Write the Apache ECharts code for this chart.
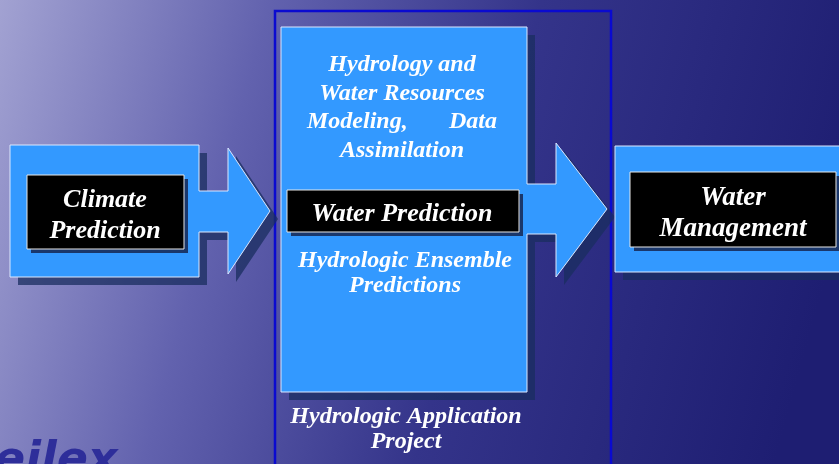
<!DOCTYPE html>
<html>
<head>
<meta charset="utf-8">
<script src="https://cdn.jsdelivr.net/npm/echarts@6/dist/echarts.min.js"></script>
<style>
  html, body { margin: 0; padding: 0; }
  #diagram { width: 839px; height: 464px; }
</style>
</head>
<body>
<div id="diagram"></div>
<script>
// textes du schéma
const climateLabel = ['Climate', 'Prediction'];
const modelLines = ['Hydrology and', 'Water Resources', 'Modeling,|Data', 'Assimilation'];
const predictionLabel = ['Water Prediction'];
const ensembleLines = ['Hydrologic Ensemble', 'Predictions'];
const projectLines = ['Hydrologic Application', 'Project'];
const managementLabel = ['Water', 'Management'];
const logoText = ['eilex'];

const chart = echarts.init(document.getElementById('diagram'), null, { renderer: 'canvas' });

const BLUE = '#3399ff';
const EDGE = '#dce8ff';
const SHADOW = 'rgba(25,45,95,0.75)';
const FONT = '"Liberation Serif", "DejaVu Serif", serif';

// forme bleue + son ombre décalée
function blueShape(points, z) {
    const shadow = points.map(p => [p[0] + 8, p[1] + 8]);
    return [
        { type: 'polygon', shape: { points: shadow }, style: { fill: SHADOW }, z: z },
        { type: 'polygon', shape: { points: points }, style: { fill: BLUE, stroke: EDGE, lineWidth: 1 }, z: z + 1 }
    ];
}

function blackBox(x, y, w, h, z) {
    return [
        { type: 'rect', shape: { x: x + 4, y: y + 4, width: w, height: h }, style: { fill: 'rgba(20,30,70,0.8)' }, z: z },
        { type: 'rect', shape: { x: x, y: y, width: w, height: h }, style: { fill: '#000', stroke: '#e8e8e8', lineWidth: 1 }, z: z + 1 }
    ];
}

function lines(list, cx, y0, step, size, z) {
    const out = [];
    list.forEach((t, i) => {
        const y = y0 + 2 + i * step;
        if (t.indexOf('|') >= 0) {
            const parts = t.split('|');
            out.push({ type: 'text', z: z, style: { x: cx - 95, y: y, text: parts[0], fill: '#fff', font: 'italic bold ' + size + 'px ' + FONT, textAlign: 'left', textVerticalAlign: 'middle' } });
            out.push({ type: 'text', z: z, style: { x: cx + 95, y: y, text: parts[1], fill: '#fff', font: 'italic bold ' + size + 'px ' + FONT, textAlign: 'right', textVerticalAlign: 'middle' } });
        } else {
            out.push({ type: 'text', z: z, style: { x: cx, y: y, text: t, fill: '#fff', font: 'italic bold ' + size + 'px ' + FONT, textAlign: 'center', textVerticalAlign: 'middle' } });
        }
    });
    return out;
}

const leftArrow = [[10, 145], [199, 145], [199, 191], [228, 191], [228, 148], [270, 211], [228, 274], [228, 232], [199, 232], [199, 277], [10, 277]];
const centerArrow = [[281, 27], [527, 27], [527, 184], [556, 184], [556, 143], [607, 209], [556, 277], [556, 234], [527, 234], [527, 392], [281, 392]];
const rightBox = [[615, 146], [860, 146], [860, 272], [615, 272]];

let elements = [
    {
        type: 'rect', z: 0,
        shape: { x: 0, y: 0, width: 839, height: 464 },
        style: {
            fill: new echarts.graphic.LinearGradient(0, 0, 1, 0.5, [
                { offset: 0, color: '#a2a2d2' },
                { offset: 0.3, color: '#6262ae' },
                { offset: 0.6, color: '#34348a' },
                { offset: 1, color: '#1e1e72' }
            ])
        }
    },
    {
        type: 'text', z: 1,
        style: { x: -6, y: 439, text: logoText[0], fill: '#2e2e9a', font: 'italic bold 46px "DejaVu Sans"', textAlign: 'left', textVerticalAlign: 'top' }
    },
    {
        type: 'rect', z: 2,
        shape: { x: 275, y: 11, width: 336, height: 470 },
        style: { fill: 'none', stroke: '#0a0ad0', lineWidth: 2.5 }
    }
];

elements = elements
    .concat(blueShape(leftArrow, 3))
    .concat(blueShape(centerArrow, 3))
    .concat(blueShape(rightBox, 3))
    .concat(blackBox(27, 175, 157, 74, 6))
    .concat(blackBox(287, 190, 232, 42, 6))
    .concat(blackBox(630, 172, 206, 75, 6))
    .concat(lines(climateLabel, 105, 198, 31, 26, 10))
    .concat(lines(modelLines, 402, 63, 28.5, 24, 10))
    .concat(lines(predictionLabel, 402, 212, 0, 26, 10))
    .concat(lines(ensembleLines, 405, 259, 25, 24, 10))
    .concat(lines(projectLines, 406, 415, 25, 24, 10))
    .concat(lines(managementLabel, 733, 196, 31, 27, 10));

chart.setOption({
    animation: false,
    graphic: { elements: elements }
});

window.addEventListener('resize', () => {
    chart.resize();
});
</script>
</body>
</html>
